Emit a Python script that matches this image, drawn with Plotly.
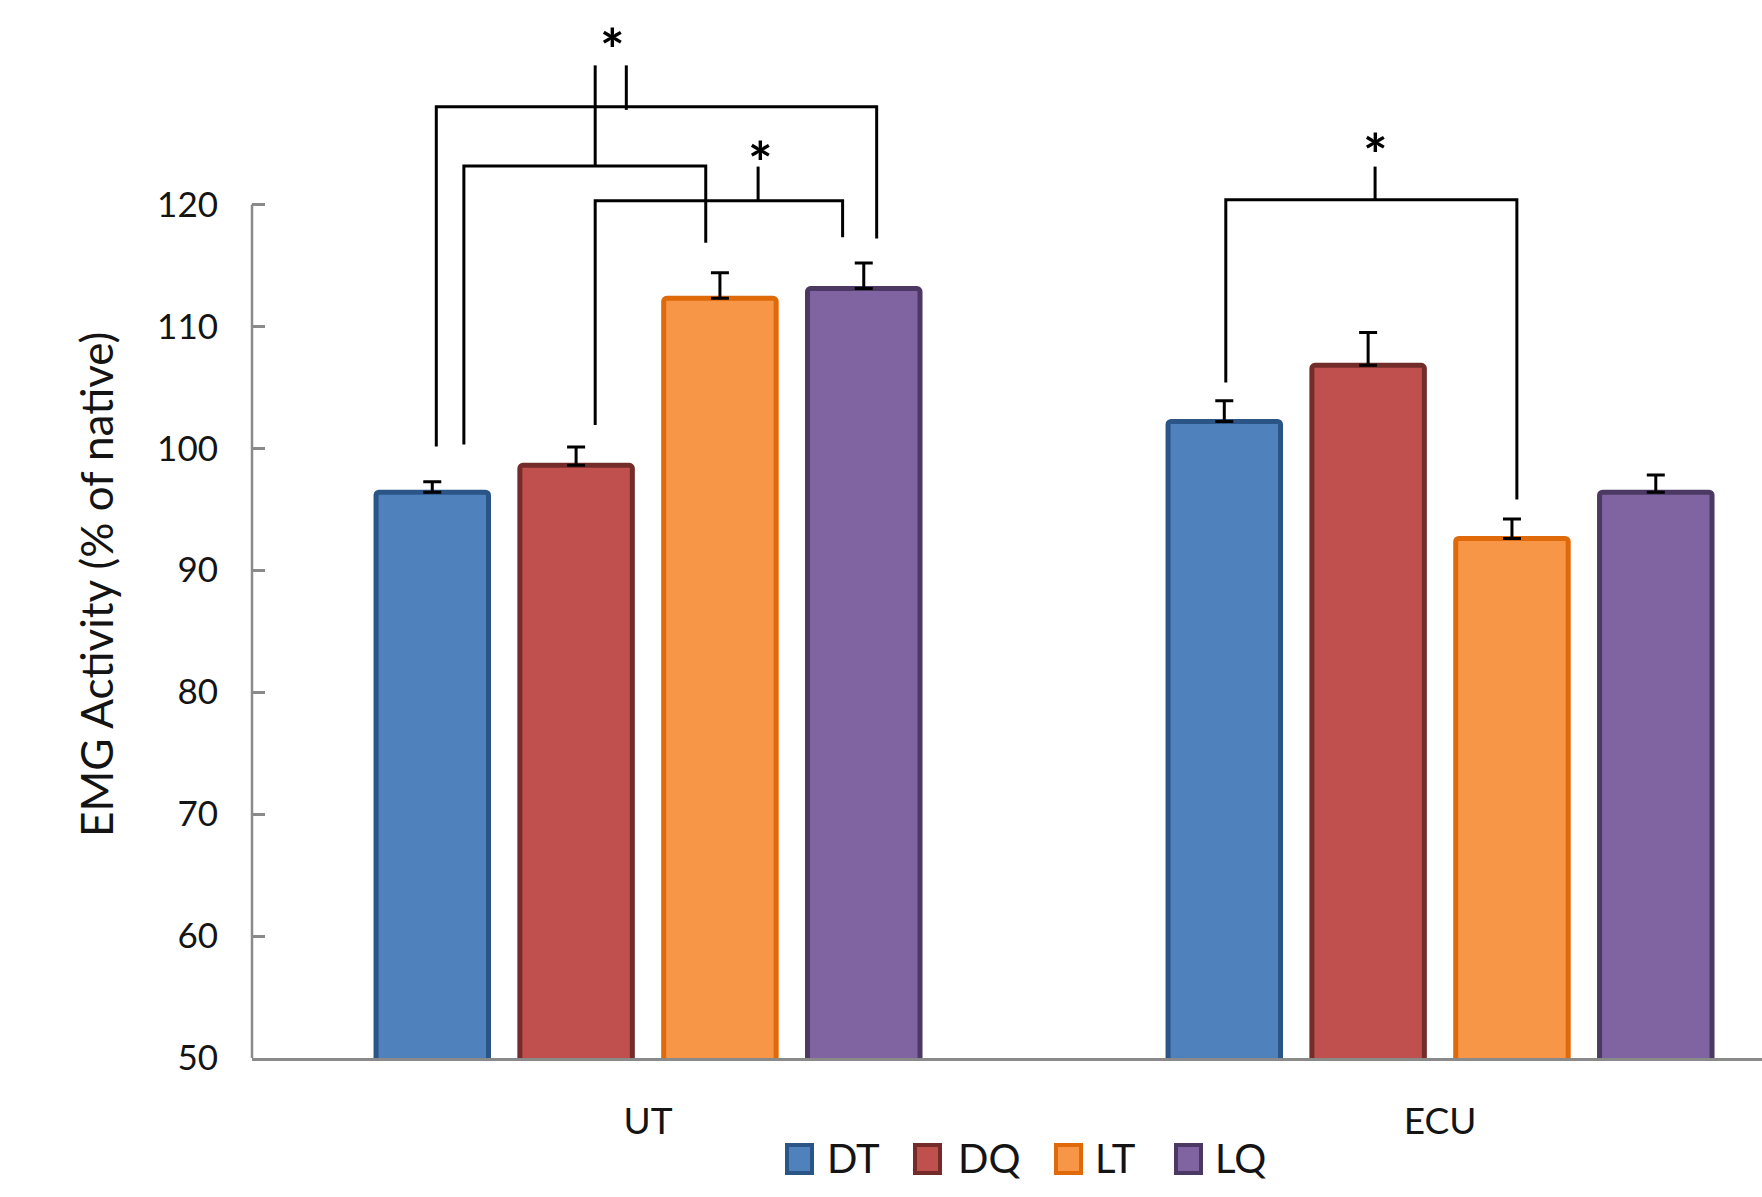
import plotly.graph_objects as go

# ---- data -------------------------------------------------------------
muscles = ["UT", "ECU"]
conditions = ["DT", "DQ", "LT", "LQ"]
emg_dt = [96.4, 102.2]
emg_dq = [98.6, 106.8]
emg_lt = [112.3, 92.6]
emg_lq = [113.1, 96.4]
err_dt = [0.85, 1.7]
err_dq = [1.5, 2.7]
err_lt = [2.1, 1.6]
err_lq = [2.1, 1.4]
y_ticks = [50, 60, 70, 80, 90, 100, 110, 120]

values = [emg_dt, emg_dq, emg_lt, emg_lq]
errors = [err_dt, err_dq, err_lt, err_lq]

# ---- styling ----------------------------------------------------------
FILL = ["#4F81BD", "#C0504D", "#F79646", "#8064A2"]
EDGE = ["#2B5487", "#742C2B", "#E06A0A", "#4B3863"]
FONT = "Lato"
TEXT = "#141414"
AXIS = "#8A8A8A"

W, H = 1762, 1197
M_L, M_R, M_T, M_B = 252, 0, 30, 139
Y_RANGE = [50, 134.3]
X_RANGE = [-0.5, 1.4065]


def px_x(px):
    return (px - M_L) / (W - M_L - M_R)


def px_y(py):
    return (H - M_B - py) / (H - M_T - M_B)


fig = go.Figure()
for name, vals, errs, fc, ec in zip(conditions, values, errors, FILL, EDGE):
    fig.add_trace(go.Bar(
        name=name, x=muscles, y=vals,
        marker=dict(color=fc, line=dict(color=ec, width=5), cornerradius=3),
        error_y=dict(type="data", symmetric=False, array=errs,
                     arrayminus=[0] * len(errs), color="black",
                     thickness=3, width=9),
        showlegend=False,
    ))

shapes = []
# left axis line spanning the tick range only
shapes.append(dict(type="line", xref="paper", yref="y", x0=0, x1=0,
                   y0=y_ticks[0], y1=y_ticks[-1],
                   line=dict(color=AXIS, width=2.5)))

# significance brackets: (x_left, x_right, y_bar, y_left_end, y_right_end)
brackets = [
    (-0.2673, 0.2887, 128.0, 100.15, 117.2),
    (-0.2325, 0.0729, 123.15, 100.3, 116.85),
    (-0.0667, 0.2457, 120.3, 101.9, 117.3),
    (0.7295, 1.097, 120.37, 105.4, 95.8),
]
# vertical stems: (x, y_bottom, y_top)
stems = [
    (-0.0667, 123.15, 131.4),
    (-0.0274, 127.75, 131.4),
    (0.139, 120.3, 123.1),
    (0.918, 120.37, 123.1),
]
BR = dict(color="black", width=3)
for xl, xr, yb, yl, yr in brackets:
    shapes.append(dict(type="path", xref="x", yref="y", line=BR,
                       path=f"M {xl},{yl} L {xl},{yb} L {xr},{yb} L {xr},{yr}"))
for xs, y0, y1 in stems:
    shapes.append(dict(type="line", xref="x", yref="y", x0=xs, x1=xs,
                       y0=y0, y1=y1, line=BR))

annotations = []
for xs, ys in [(-0.045, 132.8), (0.1425, 123.5), (0.919, 124.15)]:
    annotations.append(dict(x=xs, y=ys, xref="x", yref="y", text="<b>*</b>",
                            showarrow=False, xanchor="center",
                            yanchor="middle",
                            font=dict(family=FONT, size=58, color="black")))

# y-axis title
annotations.append(dict(x=px_x(96), y=px_y(585), xref="paper", yref="paper",
                        text="EMG Activity (% of native)", textangle=-90,
                        showarrow=False, xanchor="center", yanchor="middle",
                        font=dict(family=FONT, size=44, color=TEXT)))

# legend row
sw_left = [785, 913, 1054, 1174]
tx_left = [828, 959, 1096, 1216]
for name, fc, ec, sx, tx in zip(conditions, FILL, EDGE, sw_left, tx_left):
    shapes.append(dict(type="rect", xref="paper", yref="paper",
                       x0=px_x(sx + 2), x1=px_x(sx + 27),
                       y0=px_y(1173), y1=px_y(1145),
                       fillcolor=fc, line=dict(color=ec, width=4)))
    annotations.append(dict(x=px_x(tx - 3), y=px_y(1158), xref="paper",
                            yref="paper", text=name, showarrow=False,
                            xanchor="left", yanchor="middle",
                            font=dict(family=FONT, size=40, color=TEXT)))

fig.update_layout(
    width=W, height=H,
    margin=dict(l=M_L, r=M_R, t=M_T, b=M_B, pad=0),
    paper_bgcolor="white", plot_bgcolor="white",
    barmode="group", bargap=0.2736, bargroupgap=0.218,
    shapes=shapes, annotations=annotations,
    xaxis=dict(range=X_RANGE, showline=True, linecolor=AXIS, linewidth=2.5,
               ticks="", showgrid=False, zeroline=False,
               tickfont=dict(family=FONT, size=37, color=TEXT),
               ticklabelstandoff=29),
    yaxis=dict(range=Y_RANGE, tickvals=y_ticks, showline=False,
               ticks="inside", ticklen=13, tickwidth=2.5, tickcolor=AXIS,
               showgrid=False, zeroline=False,
               tickfont=dict(family=FONT, size=35, color=TEXT),
               ticklabelstandoff=33),
)

fig.write_html("out.html")
